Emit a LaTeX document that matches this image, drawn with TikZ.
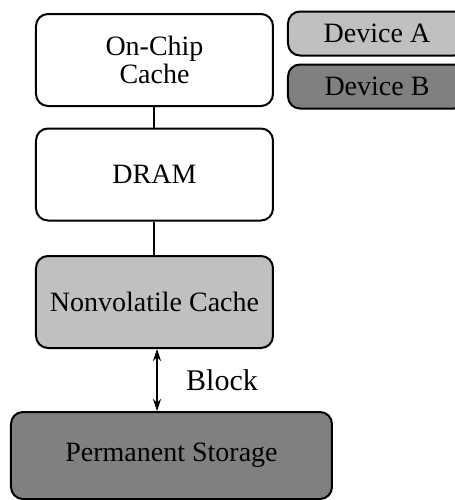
\documentclass[tikz,border=0pt]{standalone}
\usepackage{fontspec}
\setmainfont{Liberation Serif}
\usetikzlibrary{arrows.meta}
\definecolor{devA}{HTML}{C0C0C0}
\definecolor{devB}{HTML}{808080}

\begin{document}
\begin{tikzpicture}[x=0.5pt,y=0.5pt,
  mem/.style={draw,rounded corners=6pt,line width=1pt,minimum width=118.5pt,minimum height=46pt,align=center,inner sep=0pt,font=\fontsize{14}{14}\selectfont},
  legend/.style={mem,minimum width=89pt,minimum height=22pt}]
\useasboundingbox (0,0) rectangle (455,500);
\path
(154.5,440) node [mem] (cache) {On-Chip\\Cache}
(154.5,325.5) node [mem] (dram) {DRAM}
(154.5,198) node [mem,fill=devA] (nvcache) {Nonvolatile Cache}
(171.5,44.5) node [mem,fill=devB,minimum width=160.5pt,minimum height=43.5pt] (storage) {Permanent Storage}
(222,120) node [font=\fontsize{15}{15}\selectfont] (blocklbl) {Block}
% legend, runs off the right edge
(377,466.5) node [legend,fill=devA] (devicea) {Device A}
(377,413.5) node [legend,fill=devB] (deviceb) {Device B}
;

\draw[line width=1pt] (cache) -- (dram);
\draw[line width=1pt] (dram) -- (nvcache);

% block transfers
\coordinate (arrtop) at ([xshift=1.25pt]nvcache.south);
\coordinate (arrbot) at (arrtop |- storage.north);
\draw[{Stealth[length=6pt,width=4pt]}-{Stealth[length=6pt,width=4pt]},line width=0.6pt] (arrtop) -- (arrbot);
\end{tikzpicture}
\end{document}
